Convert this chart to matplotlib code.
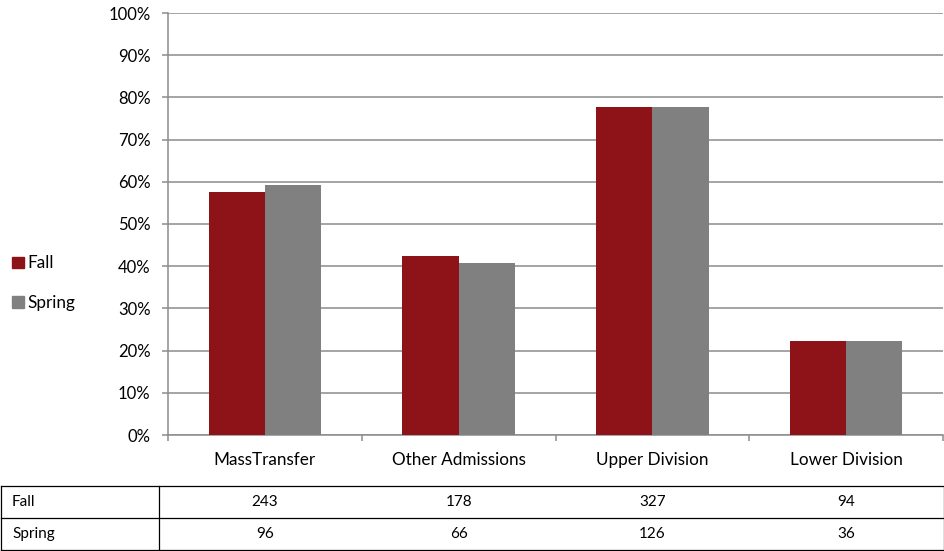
import numpy as np
import matplotlib.pyplot as plt
from matplotlib.lines import Line2D
from matplotlib.patches import Patch
from matplotlib.transforms import blended_transform_factory

plt.rcParams['font.family'] = ['Lato', 'DejaVu Sans']

categories = ['MassTransfer', 'Other Admissions', 'Upper Division', 'Lower Division']
fall_pct = [57.7, 42.3, 77.7, 22.3]
spring_pct = [59.3, 40.7, 77.8, 22.2]
fall_counts = [243, 178, 327, 94]
spring_counts = [96, 66, 126, 36]
y_ticks = list(range(0, 101, 10))

fall_color = '#8e1318'
spring_color = '#808080'
grid_color = '#8c8c8c'

fig = plt.figure(figsize=(9.45, 5.51), dpi=100)
ax = fig.add_axes([168 / 945, 1 - 435 / 551, 775 / 945, 422 / 551])

x = np.arange(len(categories))
w = 0.29
ax.bar(x - w / 2, fall_pct, w, color=fall_color, zorder=3)
ax.bar(x + w / 2, spring_pct, w, color=spring_color, zorder=3)

ax.set_xlim(-0.5, len(categories) - 0.5)
ax.set_ylim(0, 100)
ax.set_yticks(y_ticks)
ax.set_yticklabels([f'{t}%' for t in y_ticks], fontsize=12)
ax.yaxis.grid(True, color=grid_color, linewidth=1.1, zorder=0)
ax.tick_params(axis='y', length=4.5, width=1.1, color=grid_color, pad=8)

ax.set_xticks(np.arange(-0.5, len(categories)), minor=False)
ax.set_xticklabels([])
ax.set_xticks(x, minor=True)
ax.set_xticklabels(categories, minor=True, fontsize=12.3)
ax.tick_params(axis='x', which='major', length=4.5, width=1.1, color=grid_color)
ax.tick_params(axis='x', which='minor', length=0, pad=12)

for s in ['top', 'right']:
    ax.spines[s].set_visible(False)
for s in ['left', 'bottom']:
    ax.spines[s].set_color(grid_color)
    ax.spines[s].set_linewidth(1.1)

# legend on the left
handles = [Patch(color=fall_color), Patch(color=spring_color)]
fig.legend(handles, ['Fall', 'Spring'], loc='center left',
           bbox_to_anchor=(0.0, 1 - 283 / 551), frameon=False, fontsize=12.3,
           handlelength=0.7, handleheight=0.7, handletextpad=0.2,
           labelspacing=1.35, borderaxespad=0.3)

# data table below the chart
tr = blended_transform_factory(ax.transData, fig.transFigure)
row_y = [1 - 486 / 551, 1 - 518 / 551, 1 - 550 / 551]
line_kw = dict(color='black', linewidth=0.9)
for yy in row_y:
    fig.add_artist(Line2D([0.5 / 945, 944.5 / 945], [yy, yy], **line_kw))
for xx in [0.5 / 945, 159 / 945, 944.5 / 945]:
    fig.add_artist(Line2D([xx, xx], [row_y[0], row_y[2]], **line_kw))

for r, (label, vals) in enumerate([('Fall', fall_counts), ('Spring', spring_counts)]):
    yc = (row_y[r] + row_y[r + 1]) / 2
    fig.text(12 / 945, yc, label, fontsize=11, va='center', ha='left')
    for i, v in enumerate(vals):
        fig.text(x[i], yc, str(v), transform=tr, fontsize=11, va='center', ha='center')

fig.savefig('out.png', dpi=100)
